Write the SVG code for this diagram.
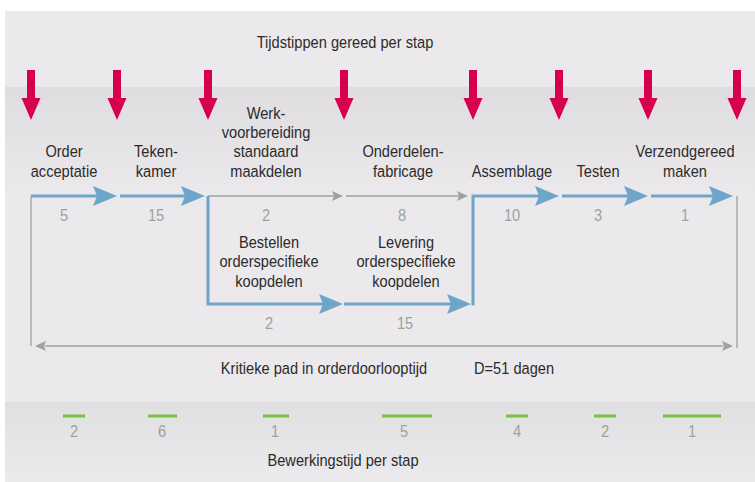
<svg xmlns="http://www.w3.org/2000/svg" width="755" height="482" viewBox="0 0 755 482">
<defs>
<linearGradient id="band1" x1="0" y1="0" x2="0" y2="1">
<stop offset="0" stop-color="#dfdde0"/><stop offset="1" stop-color="#ebe9ec"/>
</linearGradient>
<linearGradient id="band2" x1="0" y1="0" x2="0" y2="1">
<stop offset="0" stop-color="#e0dfe2"/><stop offset="1" stop-color="#e9e8eb"/>
</linearGradient>
<polygon id="redArrow" points="-4,0 4,0 4,28 9.5,28 0,50 -9.5,28 -4,28" fill="#d6004f"/>
<polygon id="blueHead" points="0,0 -24,-10 -20,0 -24,10" fill="#6ea6c9"/>
<polygon id="grayHead" points="0,0 -11,-5 -9,0 -11,5" fill="#9aa39d"/>
</defs>
<style>
text{font-family:"Liberation Sans Narrow","Liberation Sans",Arial,sans-serif;font-size:17px;text-anchor:middle;transform-box:fill-box;transform-origin:center;transform:scaleX(0.86)}
text.start{text-anchor:start;transform-origin:left}
.lbl{fill:#2b2b2b}
.num{fill:#9aa39d}
.blue{fill:none;stroke:#6ea6c9;stroke-width:3}
.gray{fill:none;stroke:#9aa39d;stroke-width:1.3}
.green{stroke:#7dc242;stroke-width:3}
</style>
<rect x="0" y="0" width="755" height="482" fill="#ffffff"/>
<rect x="5" y="11" width="750" height="471" fill="#ebe9ec"/>
<rect x="5" y="87" width="750" height="110" fill="url(#band1)"/>
<rect x="5" y="402" width="750" height="68" fill="url(#band2)"/>

<g id="timepoints">
<use href="#redArrow" x="31" y="70"/>
<use href="#redArrow" x="117" y="70"/>
<use href="#redArrow" x="208" y="70"/>
<use href="#redArrow" x="344" y="70"/>
<use href="#redArrow" x="473" y="70"/>
<use href="#redArrow" x="559" y="70"/>
<use href="#redArrow" x="648" y="70"/>
<use href="#redArrow" x="737" y="70"/>
</g>
<text class="lbl" x="345" y="48">Tijdstippen gereed per stap</text>

<g id="connectors">
<path class="gray" d="M31,196 V346"/>
<path class="gray" d="M737,196 V348"/>
<path class="gray" d="M45,346 H723"/>
<use href="#grayHead" transform="translate(35,346) rotate(180)"/>
<use href="#grayHead" x="733" y="346"/>
<path class="gray" d="M208,196 H336"/>
<use href="#grayHead" x="343" y="196"/>
<path class="gray" d="M346,196 H461"/>
<use href="#grayHead" x="468" y="196"/>
<path class="blue" d="M31,196 H97"/>
<use href="#blueHead" x="117" y="196"/>
<path class="blue" d="M120,196 H185"/>
<use href="#blueHead" x="205" y="196"/>
<path class="blue" d="M208,196 V304 H323"/>
<use href="#blueHead" x="343" y="304"/>
<path class="blue" d="M344,304 H451"/>
<use href="#blueHead" x="471" y="304"/>
<path class="blue" d="M473,305.5 V196 H539"/>
<use href="#blueHead" x="559" y="196"/>
<path class="blue" d="M562,196 H628"/>
<use href="#blueHead" x="648" y="196"/>
<path class="blue" d="M651,196 H713"/>
<use href="#blueHead" x="733" y="196"/>
</g>

<g id="order-acceptatie">
<text class="lbl" x="64" y="157">Order</text>
<text class="lbl" x="64" y="177">acceptatie</text>
<text class="num" x="64" y="221">5</text>
</g>
<g id="tekenkamer">
<text class="lbl" x="156" y="157">Teken-</text>
<text class="lbl" x="156" y="177">kamer</text>
<text class="num" x="156" y="221">15</text>
</g>
<g id="werkvoorbereiding">
<text class="lbl" x="266" y="119">Werk-</text>
<text class="lbl" x="266" y="138">voorbereiding</text>
<text class="lbl" x="266" y="157">standaard</text>
<text class="lbl" x="266" y="177">maakdelen</text>
<text class="num" x="266" y="221">2</text>
</g>
<g id="onderdelenfabricage">
<text class="lbl" x="403" y="157">Onderdelen-</text>
<text class="lbl" x="403" y="177">fabricage</text>
<text class="num" x="402" y="221">8</text>
</g>
<g id="assemblage">
<text class="lbl" x="512" y="177">Assemblage</text>
<text class="num" x="512" y="221">10</text>
</g>
<g id="testen">
<text class="lbl" x="598" y="177">Testen</text>
<text class="num" x="598" y="221">3</text>
</g>
<g id="verzendgereed">
<text class="lbl" x="685" y="157">Verzendgereed</text>
<text class="lbl" x="685" y="177">maken</text>
<text class="num" x="685" y="221">1</text>
</g>
<g id="bestellen">
<text class="lbl" x="269" y="248">Bestellen</text>
<text class="lbl" x="269" y="267">orderspecifieke</text>
<text class="lbl" x="269" y="287">koopdelen</text>
<text class="num" x="269" y="329">2</text>
</g>
<g id="levering">
<text class="lbl" x="406" y="248">Levering</text>
<text class="lbl" x="406" y="267">orderspecifieke</text>
<text class="lbl" x="406" y="287">koopdelen</text>
<text class="num" x="405" y="329">15</text>
</g>
<g id="kritieke-pad">
<text class="lbl" x="324" y="374">Kritieke pad in orderdoorlooptijd</text>
<text class="lbl start" x="474" y="374">D=51 dagen</text>
</g>

<g id="bewerkingstijd">
<line class="green" x1="63" y1="416" x2="85" y2="416"/>
<line class="green" x1="148" y1="416" x2="177" y2="416"/>
<line class="green" x1="263" y1="416" x2="289" y2="416"/>
<line class="green" x1="382" y1="416" x2="432" y2="416"/>
<line class="green" x1="506" y1="416" x2="528" y2="416"/>
<line class="green" x1="594" y1="416" x2="616" y2="416"/>
<line class="green" x1="663" y1="416" x2="721" y2="416"/>
<text class="num" x="74" y="437">2</text>
<text class="num" x="162" y="437">6</text>
<text class="num" x="275" y="437">1</text>
<text class="num" x="404" y="437">5</text>
<text class="num" x="517" y="437">4</text>
<text class="num" x="605" y="437">2</text>
<text class="num" x="692" y="437">1</text>
<text class="lbl" x="343" y="466">Bewerkingstijd per stap</text>
</g>
</svg>
